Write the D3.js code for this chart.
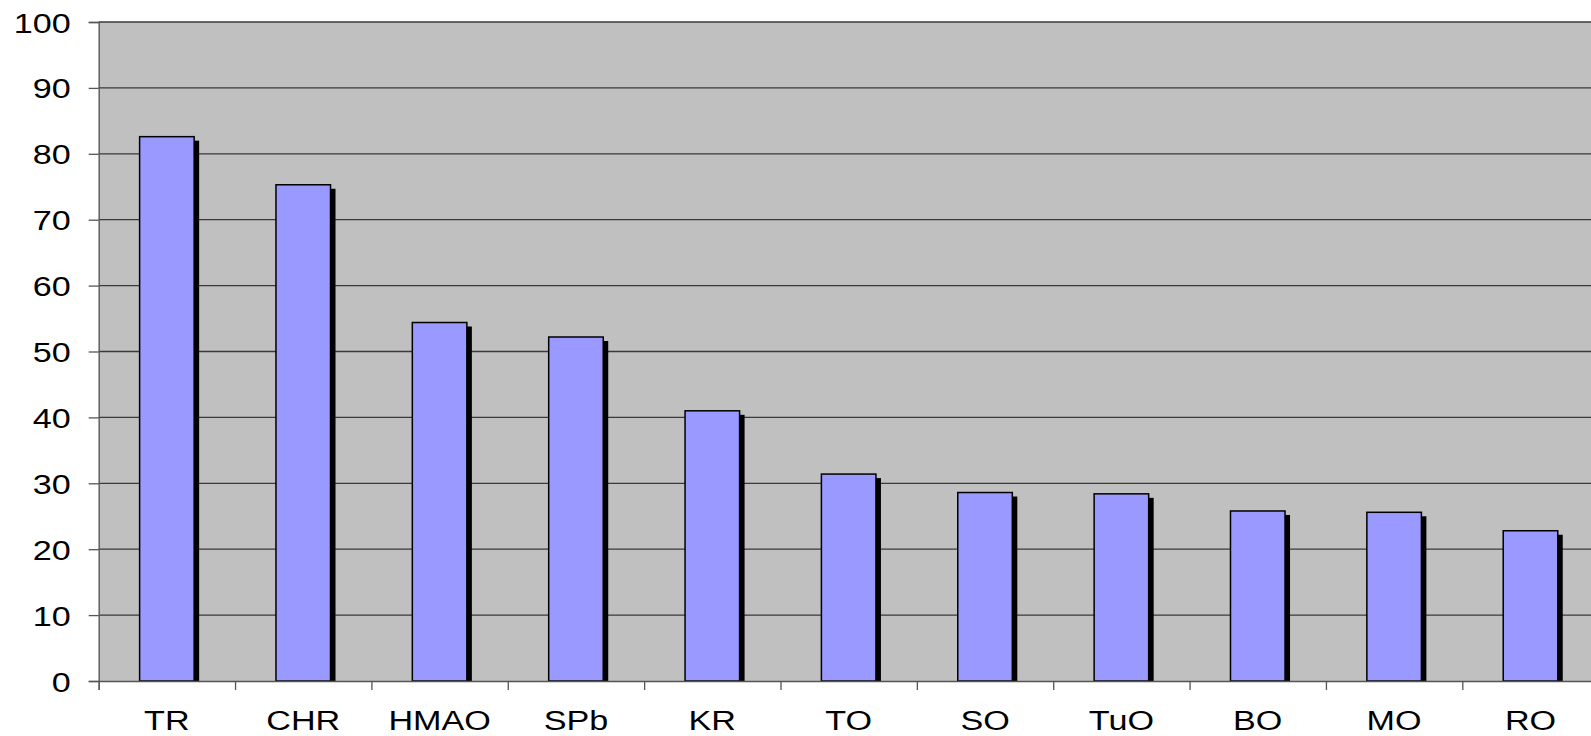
<!DOCTYPE html>
<html>
<head>
<meta charset="utf-8">
<script src="https://cdn.jsdelivr.net/npm/d3@7"></script>
<style>
  body { margin: 0; background: #fff; }
  svg { display: block; }
</style>
</head>
<body>
<svg></svg>
<script>
const categories = ["TR", "CHR", "HMAO", "SPb", "KR", "TO", "SO", "TuO", "BO", "MO", "RO"];
const values = [82.6, 75.3, 54.4, 52.2, 41.0, 31.4, 28.6, 28.4, 25.8, 25.6, 22.8];
const yTicks = [0, 10, 20, 30, 40, 50, 60, 70, 80, 90, 100];

const svgWidth = 1591, svgHeight = 736;
const plotLeft = 98.7, plotTop = 22, plotBottom = 681;
const step = 136.36;
const plotRight = plotLeft + step * categories.length; // plot runs past the right edge

const svg = d3.select("svg")
    .attr("width", svgWidth)
    .attr("height", svgHeight);

const xScale = d3.scaleBand().domain(categories).range([plotLeft, plotRight]).padding(0);
const yScale = d3.scaleLinear().domain([0, 100]).range([plotBottom, plotTop]);

// plot area
svg.append("rect")
    .attr("x", plotLeft).attr("y", plotTop)
    .attr("width", plotRight - plotLeft).attr("height", plotBottom - plotTop)
    .attr("fill", "#c0c0c0");

// gridlines
svg.append("g").selectAll("line")
    .data(yTicks.filter(d => d > 0))
    .enter().append("line")
    .attr("x1", plotLeft).attr("x2", plotRight)
    .attr("y1", d => yScale(d)).attr("y2", d => yScale(d))
    .attr("stroke", "#3a3a3a")
    .attr("stroke-width", 1.3);

const barW = xScale.bandwidth() * 0.4;
const barX = d => xScale(d) + (xScale.bandwidth() - barW) / 2;

// shadows
svg.append("g").selectAll("rect")
    .data(categories)
    .enter().append("rect")
    .attr("x", d => barX(d) + 5)
    .attr("y", (d, i) => yScale(values[i]) + 4)
    .attr("width", barW)
    .attr("height", (d, i) => plotBottom - yScale(values[i]) - 4)
    .attr("fill", "#000");

// bars
svg.append("g").selectAll("rect")
    .data(categories)
    .enter().append("rect")
    .attr("x", d => barX(d))
    .attr("y", (d, i) => yScale(values[i]))
    .attr("width", barW)
    .attr("height", (d, i) => plotBottom - yScale(values[i]))
    .attr("fill", "#9999ff")
    .attr("stroke", "#000")
    .attr("stroke-width", 1.5);

// y axis
const yAxis = svg.append("g")
    .attr("transform", "translate(" + plotLeft + ",0)")
    .call(d3.axisLeft(yScale).tickValues(yTicks).tickSize(10).tickPadding(0).tickFormat(d => d));
yAxis.select(".domain").attr("stroke", "#555").attr("stroke-width", 1.3);
yAxis.selectAll(".tick line").attr("stroke", "#555").attr("stroke-width", 1.3);
yAxis.selectAll(".tick text")
    .attr("x", 0)
    .attr("dy", "0.36em")
    .attr("font-family", "Liberation Sans, Arial, sans-serif")
    .attr("font-size", 28)
    .attr("fill", "#000")
    .attr("transform", "translate(-28,0) scale(1.22,1)");

// x axis
const xAxis = svg.append("g")
    .attr("transform", "translate(0," + plotBottom + ")")
    .call(d3.axisBottom(d3.scaleLinear().domain([0, categories.length]).range([plotLeft, plotRight]))
        .tickValues(d3.range(0, categories.length + 1)).tickSize(9).tickFormat(""));
xAxis.select(".domain").attr("stroke", "#555").attr("stroke-width", 1.3);
xAxis.selectAll(".tick line").attr("stroke", "#555").attr("stroke-width", 1.3);

svg.append("g").selectAll("text")
    .data(categories)
    .enter().append("text")
    .attr("transform", d => "translate(" + (xScale(d) + xScale.bandwidth() / 2) + ",730) scale(1.22,1)")
    .attr("text-anchor", "middle")
    .attr("font-family", "Liberation Sans, Arial, sans-serif")
    .attr("font-size", 28)
    .attr("fill", "#000")
    .text(d => d);
</script>
</body>
</html>
